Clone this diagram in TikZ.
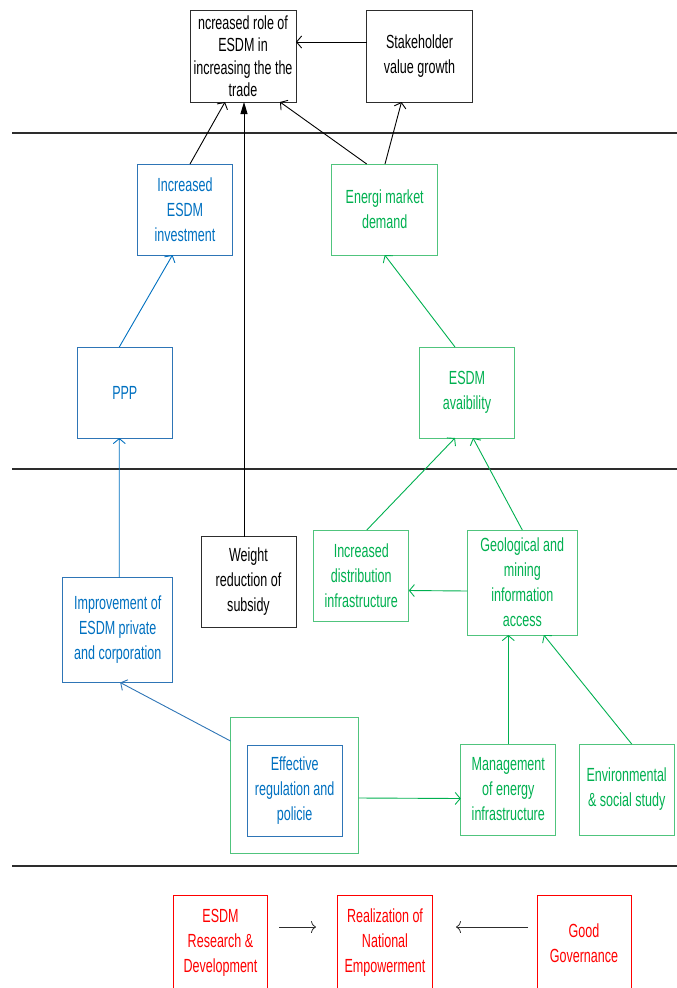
\documentclass[tikz,border=0pt]{standalone}
\usepackage{fontspec}
\newfontfamily\narrow[FakeStretch=0.66]{Liberation Sans}
\usepackage{tikz}
\usetikzlibrary{arrows.meta}
\definecolor{gris}{RGB}{45,45,45}
\definecolor{textbleu}{RGB}{0,112,192}
\definecolor{bordbleu}{RGB}{46,117,182}
\definecolor{textvert}{RGB}{0,176,80}
\definecolor{bordvert}{RGB}{80,196,125}
\definecolor{rouge}{RGB}{255,0,0}

\begin{document}
\begin{tikzpicture}[x=1pt, y=-1pt,
    boite/.style={draw, align=center, inner sep=0pt, outer sep=0pt, line width=1pt,
      font=\narrow\fontsize{19}{25}\selectfont, minimum width=95pt, minimum height=91pt},
    noir/.style={boite, draw=gris, text=black},
    bleu/.style={boite, draw=bordbleu, text=textbleu},
    vert/.style={boite, draw=bordvert, text=textvert},
    rouge/.style={boite, draw=rouge, text=rouge},
    fleche/.style={-{Straight Barb[length=5pt,width=12pt]}, line width=0.9pt},
    separation/.style={line width=2pt, gris}]
    \useasboundingbox (0,0) rectangle (677,988);
    % Separations
    \draw[separation] (12,133) -- (677,133);
    \draw[separation] (12,469) -- (677,469);
    \draw[separation] (12,866) -- (677,866);
    % Sommet
    \node[noir, minimum width=106pt, minimum height=92pt, font=\narrow\fontsize{19}{22.5}\selectfont] (role) at (243,56) {ncreased role of\\ESDM in\\increasing the the\\trade};
    \node[noir, minimum width=106pt, minimum height=92pt] (stake) at (419.5,56) {Stakeholder\\value growth};
    % Niveau 2
    \node[bleu] (inv) at (185,209.5) {Increased\\ESDM\\investment};
    \node[vert, minimum width=106pt] (demand) at (384.7,209.5) {Energi market\\demand};
    \node[bleu] (ppp) at (124.8,392.5) {PPP};
    \node[vert] (avail) at (467,392.5) {ESDM\\avaibility};
    % Niveau 3
    \node[noir] (subsidy) at (248.5,582) {Weight\\reduction of\\subsidy};
    \node[vert] (distrib) at (361.3,575.5) {Increased\\distribution\\infrastructure};
    \node[vert, minimum width=110pt, minimum height=105pt] (geo) at (522.3,582.5) {Geological and\\mining\\information\\access};
    \node[bleu, minimum width=110pt, minimum height=105pt] (improv) at (117.7,630) {Improvement of\\ESDM private\\and corporation};
    \node[vert, minimum width=128pt, minimum height=136pt] (outer) at (294.5,785) {};
    \node[bleu] (regul) at (294.7,791) {Effective\\regulation and\\policie};
    \node[vert] (manage) at (508.3,789.5) {Management\\of energy\\infrastructure};
    \node[vert] (environ) at (626.7,789.5) {Environmental\\\& social study};
    % Bas
    \node[rouge, minimum width=94pt, minimum height=96pt] (rnd) at (220.5,943) {ESDM\\Research \&\\Development};
    \node[rouge, minimum height=96pt] (realiz) at (385,943) {Realization of\\National\\Empowerment};
    \node[rouge, minimum width=94pt, minimum height=96pt] (gov) at (584,943) {Good\\Governance};
    \coordinate (rnd1) at (279,927);
    \coordinate (rnd2) at (316,927);
    \coordinate (gov1) at (528,927);
    \coordinate (gov2) at (456,927);
    % Connecteurs
    \draw[fleche] ([yshift=14pt]stake.west) -- ([yshift=14pt]role.east);
    \draw[fleche] ([xshift=5pt]inv.north) -- ([xshift=-18pt]role.south);
    \draw[-{Triangle[length=12pt,width=7pt]}, line width=0.9pt] ([xshift=-4.5pt]subsidy.north) -- ([xshift=1pt]role.south);
    \draw[fleche] ([xshift=-18pt]demand.north) -- ([xshift=37pt]role.south);
    \draw[fleche] ([xshift=0.3pt]demand.north) -- ([xshift=-18pt]stake.south);
    \draw[fleche, textbleu] ([xshift=-5.5pt]ppp.north) -- ([xshift=-12.5pt]inv.south);
    \draw[fleche, textbleu] ([xshift=1.5pt]improv.north) -- ([xshift=-5.5pt]ppp.south);
    \draw[fleche, textvert] ([xshift=-12pt]avail.north) -- (demand.south);
    \draw[fleche, textvert] ([xshift=5.5pt]distrib.north) -- ([xshift=-12pt]avail.south);
    \draw[fleche, textvert] (geo.north) -- ([xshift=6pt]avail.south);
    \draw[fleche, textvert] ([yshift=-8.5pt]geo.west) -- ([yshift=-15pt]distrib.east);
    \draw[fleche, textvert] (manage.north) -- ([xshift=-14pt]geo.south);
    \draw[fleche, textvert] ([xshift=5pt]environ.north) -- ([xshift=21.5pt]geo.south);
    \draw[fleche, bordbleu] ([yshift=44pt]outer.west) -- ([xshift=2.5pt]improv.south);
    \draw[fleche, textvert] ([yshift=-13pt]outer.east) -- ([yshift=-9pt]manage.west);
    \draw[-{To[length=5pt,width=12pt]}, line width=0.8pt, gris] (rnd1) -- (rnd2);
    \draw[-{To[length=5pt,width=12pt]}, line width=0.8pt, gris] (gov1) -- (gov2);
  \end{tikzpicture}
\end{document}
